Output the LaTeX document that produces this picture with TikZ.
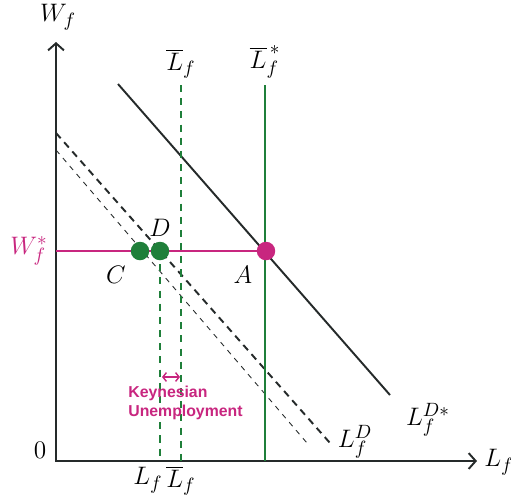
\documentclass[tikz,border=0pt]{standalone}
\usepackage{fontspec}
\usetikzlibrary{arrows.meta}
\newfontfamily\labelfont{Liberation Sans}
\definecolor{keyPink}{HTML}{C8267F}
\definecolor{keyGreen}{HTML}{1F7F3A}
\definecolor{axisGray}{HTML}{252A2A}

\begin{document}
\begin{tikzpicture}[x=0.02cm,y=-0.02cm]
  \tikzstyle{emptyStyle}=[inner sep=1pt, font=\fontsize{15}{17}\selectfont]
  \tikzstyle{axis}=[line width=1.1pt, draw=axisGray, {Straight Barb[length=4pt,width=9pt]}-{Straight Barb[length=4pt,width=9pt]}]
  \tikzstyle{demand}=[line width=1.1pt, draw=axisGray]
  \tikzstyle{oldDemand}=[line width=1.1pt, draw=axisGray, dash pattern=on 4pt off 3pt]
  \tikzstyle{shiftDemand}=[line width=0.5pt, draw=axisGray, dash pattern=on 3pt off 3pt]
  \tikzstyle{greenLine}=[line width=1pt, draw=keyGreen]
  \tikzstyle{greenDash}=[line width=1pt, draw=keyGreen, dash pattern=on 4pt off 3.5pt]
  \tikzstyle{greenDot}=[circle, fill=keyGreen, inner sep=0pt, minimum size=0.37cm]
  \tikzstyle{pinkDot}=[circle, fill=keyPink, inner sep=0pt, minimum size=0.37cm]

  \useasboundingbox (0,0) rectangle (511,498);

  % axes
  \coordinate (origin) at (56,461);
  \coordinate (ytop) at (56,42);
  \coordinate (xend) at (477,461);
  \draw[axis] (ytop) -- (origin) -- (xend);
  \node[emptyStyle](wlabel) at (58,17) {$W_f$};
  \node[emptyStyle](llabel) at (499,462) {$L_f$};
  \node[emptyStyle](zero) at (40,450) {$0$};

  % points
  \coordinate (C) at (140,251);
  \coordinate (D) at (160,251);
  \coordinate (A) at (266,251);
  \coordinate (wAxis) at (56,251);

  % labour demand
  \coordinate (ldsTop) at (118,84);
  \coordinate (ldsBot) at (390,395);
  \draw[demand] (ldsTop) -- (ldsBot);
  \coordinate (ldTop) at (56,133);
  \coordinate (ldBot) at (330,443);
  \draw[oldDemand] (ldTop) -- (ldBot);
  \coordinate (lsTop) at (56,150);
  \coordinate (lsBot) at (307,443);
  \draw[shiftDemand] (lsTop) -- (lsBot);
  \node[emptyStyle](ldsLabel) at (428,420) {$L_f^{D*}$};
  \node[emptyStyle](ldLabel) at (355,442) {$L_f^{D}$};

  % labour supply
  \coordinate (lbarTop) at (181,85);
  \coordinate (lstarTop) at (265,85);
  \draw[greenDash] (lbarTop) -- (lbarTop |- origin);
  \draw[greenLine] (lstarTop) -- (lstarTop |- origin);
  \draw[greenDash] (D) -- (D |- origin);
  \node[emptyStyle](lbarLabel) at (181,64) {$\overline{L}_f$};
  \node[emptyStyle](lstarLabel) at (265,62) {$\overline{L}_f^{\,*}$};
  \node[emptyStyle](lfLow) at (148,480) {$L_f$};
  \node[emptyStyle](lbarLow) at (181,481) {$\overline{L}_f$};

  % wage
  \draw[keyPink, line width=1.3pt] (wAxis) -- (A);
  \node[emptyStyle, text=keyPink](wstar) at (29,251) {$W_f^*$};

  \node[greenDot](cDot) at (C) {};
  \node[greenDot](dDot) at (D) {};
  \node[pinkDot](aDot) at (A) {};
  \node[emptyStyle](cLabel) at (116,275) {$C$};
  \node[emptyStyle](dLabel) at (160,228) {$D$};
  \node[emptyStyle](aLabel) at (243,275) {$A$};

  % gap
  \draw[keyPink, line width=0.8pt, {Straight Barb[length=2pt,width=5pt]}-{Straight Barb[length=2pt,width=5pt]}] (162,377) -- (180,377);
  \node[anchor=west, align=left, text=keyPink, inner sep=0pt,
    font=\labelfont\bfseries\fontsize{9}{10.5}\selectfont](keynes) at (128,403)
    {Keynesian\\Unemployment};
\end{tikzpicture}
\end{document}
